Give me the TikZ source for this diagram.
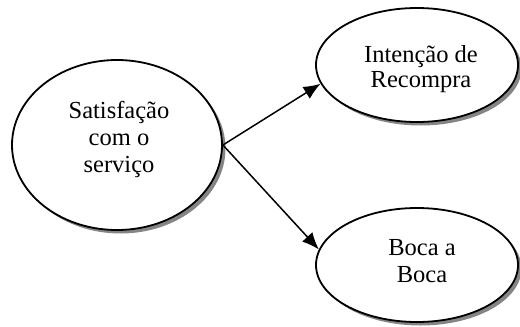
\documentclass[tikz,border=0pt]{standalone}
\usepackage{fontspec}
\setmainfont{Liberation Serif}
\usetikzlibrary{shapes.geometric,arrows.meta}

\tikzset{
  bubble/.style={ellipse, draw=black, line width=1.8pt, fill=white, inner sep=0pt},
  backdrop/.style={ellipse, fill=black!48, draw=none, inner sep=0pt},
  label text/.style={align=center, inner sep=0pt,
    font=\fontsize{24.5}{27}\selectfont},
  link/.style={line width=1.5pt, -{Latex[length=17pt,width=14pt]}}
}

\begin{document}
\begin{tikzpicture}[x=1pt, y=-1pt]
  \useasboundingbox (0,0) rectangle (520,327);

  % grey shadows behind the ellipses
  \node[backdrop, minimum width=210pt, minimum height=170pt] (satS) at (120.5,148.5) {};
  \node[backdrop, minimum width=202pt, minimum height=114pt] (recS) at (420.5,68.5) {};
  \node[backdrop, minimum width=202pt, minimum height=114pt] (bocaS) at (420.5,268.5) {};

  % the three constructs
  \node[bubble, minimum width=210pt, minimum height=170pt] (sat) at (117,145) {};
  \node[bubble, minimum width=202pt, minimum height=114pt] (rec) at (417,65) {};
  \node[bubble, minimum width=202pt, minimum height=114pt] (boca) at (417,265) {};

  % their captions
  \node[label text] (satT) at (119,139) {Satisfação\\com o\\serviço};
  \node[label text, font=\fontsize{24.5}{25}\selectfont] (recT) at (421,69) {Intenção de\\Recompra};
  \node[label text] (bocaT) at (422,261) {Boca a\\Boca};

  % effects of satisfaction
  \draw[link] (sat.east) -- (rec.191);
  \draw[link] (sat.east) -- (boca.171);
\end{tikzpicture}
\end{document}
